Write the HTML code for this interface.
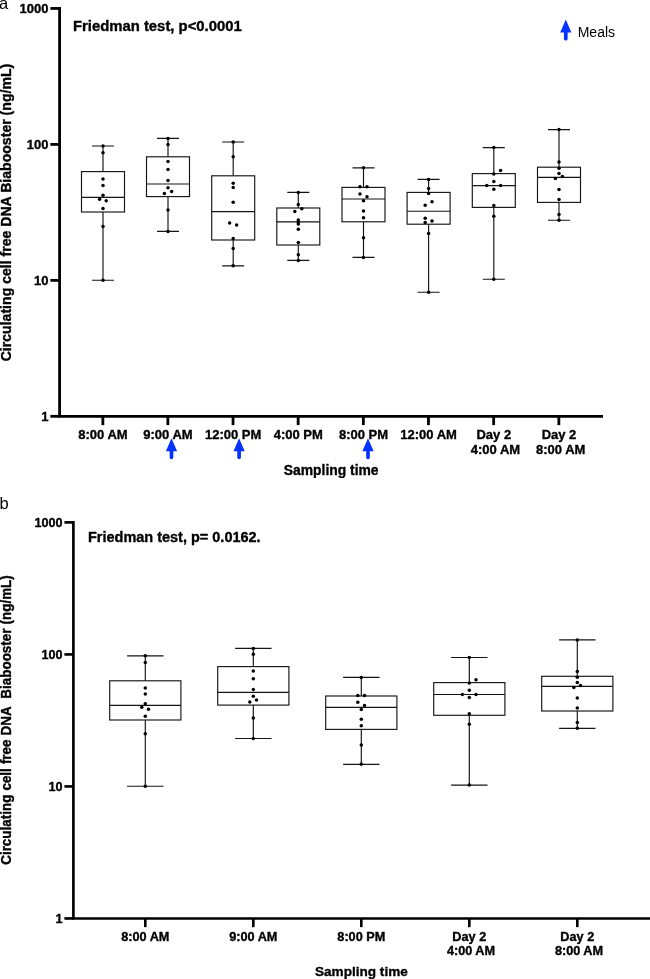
<!DOCTYPE html>
<html lang="en"><head><meta charset="utf-8"><title>Circulating cell free DNA Biabooster</title>
<style>html,body{margin:0;padding:0;background:#fff}svg{display:block}text{filter:grayscale(1)}text{font-family:"Liberation Sans",Arial,Helvetica,sans-serif;fill:#000}.b{font-weight:bold;stroke:#000;stroke-width:.35px;stroke-linejoin:round}</style></head><body>
<svg width="650" height="979" viewBox="0 0 650 979">
<rect width="650" height="979" fill="#fff"/>
<text x="-1.0" y="8.5" font-size="16.5" text-anchor="start">a</text>
<g stroke="#000" stroke-width="2.8" fill="none">
<path d="M59.6 7.049999999999999V417.7M58.2 416.3H603"/>
<path d="M50.400000000000006 416.30H59.6"/>
<path d="M50.400000000000006 280.35H59.6"/>
<path d="M50.400000000000006 144.40H59.6"/>
<path d="M50.400000000000006 8.45H59.6"/>
<path d="M102.85 416.3V425.1"/>
<path d="M167.85 416.3V425.1"/>
<path d="M233.04999999999998 416.3V425.1"/>
<path d="M298.15000000000003 416.3V425.1"/>
<path d="M363.35 416.3V425.1"/>
<path d="M428.45000000000005 416.3V425.1"/>
<path d="M493.65000000000003 416.3V425.1"/>
<path d="M558.85 416.3V425.1"/>
</g>
<text x="48.4" y="420.9" font-size="13" class="b" text-anchor="end">1</text>
<text x="48.4" y="284.95" font-size="13" class="b" text-anchor="end">10</text>
<text x="48.4" y="149.0" font-size="13" class="b" text-anchor="end">100</text>
<text x="48.4" y="13.05" font-size="13" class="b" text-anchor="end">1000</text>
<text x="103" y="439.3" font-size="13" class="b" text-anchor="middle">8:00 AM</text>
<text x="168" y="439.3" font-size="13" class="b" text-anchor="middle">9:00 AM</text>
<text x="233.2" y="439.3" font-size="13" class="b" text-anchor="middle">12:00 PM</text>
<text x="298.3" y="439.3" font-size="13" class="b" text-anchor="middle">4:00 PM</text>
<text x="363.5" y="439.3" font-size="13" class="b" text-anchor="middle">8:00 PM</text>
<text x="428.6" y="439.3" font-size="13" class="b" text-anchor="middle">12:00 AM</text>
<text x="493.8" y="439.3" font-size="13" class="b" text-anchor="middle">Day 2</text>
<text x="495.5" y="454.3" font-size="13" class="b" text-anchor="middle">4:00 AM</text>
<text x="559" y="439.3" font-size="13" class="b" text-anchor="middle">Day 2</text>
<text x="560.7" y="454.3" font-size="13" class="b" text-anchor="middle">8:00 AM</text>
<text x="72.9" y="30.8" font-size="14.86" class="b" text-anchor="start">Friedman test, p&lt;0.0001</text>
<text x="331.2" y="474.6" font-size="13.87" class="b" text-anchor="middle">Sampling time</text>
<text transform="translate(11.1 361.3) rotate(-90)" font-size="14.085" class="b" xml:space="preserve">Circulating cell free DNA Biabooster (ng/mL)</text>
<path d="M565.8 19.5L571.4 32.5L567.65 32.5L567.65 38.65A1.85 1.85 0 0 1 563.9499999999999 38.65L563.9499999999999 32.5L560.1999999999999 32.5Z" fill="#0433ff"/>
<text x="577.7" y="37.4" font-size="14" text-anchor="start">Meals</text>
<path d="M171.5 438.2L177.1 451.2L173.35 451.2L173.35 457.34999999999997A1.85 1.85 0 0 1 169.65 457.34999999999997L169.65 451.2L165.9 451.2Z" fill="#0433ff"/>
<path d="M239.1 438.2L244.7 451.2L240.95 451.2L240.95 457.34999999999997A1.85 1.85 0 0 1 237.25 457.34999999999997L237.25 451.2L233.5 451.2Z" fill="#0433ff"/>
<path d="M368.0 438.2L373.6 451.2L369.85 451.2L369.85 457.34999999999997A1.85 1.85 0 0 1 366.15 457.34999999999997L366.15 451.2L362.4 451.2Z" fill="#0433ff"/>
<g stroke="#151515" stroke-width="1.15" fill="none">
<rect x="81.5" y="171.6" width="43.0" height="40.400000000000006"/>
<path d="M81.5 197.4H124.5M103 146V171.6M103 212V280.2M92 146H114M92 280.2H114"/>
</g>
<g fill="#000">
<circle cx="103.00" cy="146" r="1.75"/>
<circle cx="103.00" cy="152.8" r="1.75"/>
<circle cx="103.00" cy="179" r="1.75"/>
<circle cx="103.00" cy="185.4" r="1.75"/>
<circle cx="103.00" cy="195.2" r="1.75"/>
<circle cx="99.60" cy="199.2" r="1.75"/>
<circle cx="106.20" cy="200.8" r="1.75"/>
<circle cx="103.00" cy="208.6" r="1.75"/>
<circle cx="103.00" cy="226.4" r="1.75"/>
<circle cx="103.00" cy="280.2" r="1.75"/>
</g>
<g stroke="#151515" stroke-width="1.15" fill="none">
<rect x="146.5" y="156.8" width="43.0" height="39.79999999999998"/>
<path d="M146.5 184H189.5M168 138.4V156.8M168 196.6V231.4M157 138.4H179M157 231.4H179"/>
</g>
<g fill="#000">
<circle cx="168.00" cy="138.4" r="1.75"/>
<circle cx="168.00" cy="144.4" r="1.75"/>
<circle cx="168.00" cy="161.6" r="1.75"/>
<circle cx="168.00" cy="169.6" r="1.75"/>
<circle cx="168.00" cy="180.4" r="1.75"/>
<circle cx="168.00" cy="187.8" r="1.75"/>
<circle cx="171.60" cy="191.4" r="1.75"/>
<circle cx="164.40" cy="193.4" r="1.75"/>
<circle cx="168.00" cy="210" r="1.75"/>
<circle cx="168.00" cy="231.4" r="1.75"/>
</g>
<g stroke="#151515" stroke-width="1.15" fill="none">
<rect x="211.7" y="175.8" width="43.0" height="64.19999999999999"/>
<path d="M211.7 211.6H254.7M233.2 142V175.8M233.2 240V265.8M222.2 142H244.2M222.2 265.8H244.2"/>
</g>
<g fill="#000">
<circle cx="233.20" cy="142" r="1.75"/>
<circle cx="233.20" cy="156.8" r="1.75"/>
<circle cx="233.20" cy="183.2" r="1.75"/>
<circle cx="233.20" cy="187.4" r="1.75"/>
<circle cx="233.20" cy="202.2" r="1.75"/>
<circle cx="229.60" cy="223" r="1.75"/>
<circle cx="236.60" cy="225" r="1.75"/>
<circle cx="233.20" cy="238.4" r="1.75"/>
<circle cx="233.20" cy="248.4" r="1.75"/>
<circle cx="233.20" cy="265.8" r="1.75"/>
</g>
<g stroke="#151515" stroke-width="1.15" fill="none">
<rect x="276.8" y="208" width="43.0" height="37"/>
<path d="M276.8 221.8H319.8M298.3 192.4V208M298.3 245V260.4M287.3 192.4H309.3M287.3 260.4H309.3"/>
</g>
<g fill="#000">
<circle cx="298.30" cy="192.4" r="1.75"/>
<circle cx="298.30" cy="204.4" r="1.75"/>
<circle cx="301.80" cy="208.8" r="1.75"/>
<circle cx="294.80" cy="211.4" r="1.75"/>
<circle cx="298.30" cy="220" r="1.75"/>
<circle cx="298.30" cy="222" r="1.75"/>
<circle cx="298.30" cy="224" r="1.75"/>
<circle cx="298.30" cy="229.2" r="1.75"/>
<circle cx="298.30" cy="242.4" r="1.75"/>
<circle cx="298.30" cy="254.8" r="1.75"/>
<circle cx="298.30" cy="260.4" r="1.75"/>
</g>
<g stroke="#151515" stroke-width="1.15" fill="none">
<rect x="342.0" y="187.4" width="43.0" height="34.400000000000006"/>
<path d="M342.0 199H385.0M363.5 167.8V187.4M363.5 221.8V257.4M352.5 167.8H374.5M352.5 257.4H374.5"/>
</g>
<g fill="#000">
<circle cx="363.50" cy="167.8" r="1.75"/>
<circle cx="360.00" cy="186.8" r="1.75"/>
<circle cx="367.00" cy="186.8" r="1.75"/>
<circle cx="360.00" cy="194" r="1.75"/>
<circle cx="367.00" cy="196.8" r="1.75"/>
<circle cx="363.50" cy="200.8" r="1.75"/>
<circle cx="363.50" cy="211" r="1.75"/>
<circle cx="363.50" cy="217.8" r="1.75"/>
<circle cx="363.50" cy="237.8" r="1.75"/>
<circle cx="363.50" cy="257.4" r="1.75"/>
</g>
<g stroke="#151515" stroke-width="1.15" fill="none">
<rect x="407.1" y="192.4" width="43.0" height="31.799999999999983"/>
<path d="M407.1 211.2H450.1M428.6 179.4V192.4M428.6 224.2V292.2M417.6 179.4H439.6M417.6 292.2H439.6"/>
</g>
<g fill="#000">
<circle cx="428.60" cy="179.4" r="1.75"/>
<circle cx="428.60" cy="188.4" r="1.75"/>
<circle cx="428.60" cy="193.4" r="1.75"/>
<circle cx="432.00" cy="201.8" r="1.75"/>
<circle cx="425.20" cy="205.2" r="1.75"/>
<circle cx="425.20" cy="218.2" r="1.75"/>
<circle cx="432.00" cy="221" r="1.75"/>
<circle cx="425.20" cy="222.4" r="1.75"/>
<circle cx="428.60" cy="233.6" r="1.75"/>
<circle cx="428.60" cy="292.2" r="1.75"/>
</g>
<g stroke="#151515" stroke-width="1.15" fill="none">
<rect x="472.3" y="173.6" width="42.99999999999994" height="33.80000000000001"/>
<path d="M472.3 185.6H515.3M493.8 147.6V173.6M493.8 207.4V279.2M482.8 147.6H504.8M482.8 279.2H504.8"/>
</g>
<g fill="#000">
<circle cx="493.80" cy="147.6" r="1.75"/>
<circle cx="500.60" cy="170.6" r="1.75"/>
<circle cx="493.80" cy="174" r="1.75"/>
<circle cx="493.80" cy="181.4" r="1.75"/>
<circle cx="486.80" cy="185.6" r="1.75"/>
<circle cx="500.60" cy="185.6" r="1.75"/>
<circle cx="493.80" cy="189.2" r="1.75"/>
<circle cx="493.80" cy="205.4" r="1.75"/>
<circle cx="493.80" cy="216.2" r="1.75"/>
<circle cx="493.80" cy="279.2" r="1.75"/>
</g>
<g stroke="#151515" stroke-width="1.15" fill="none">
<rect x="537.5" y="167.2" width="43.0" height="35.20000000000002"/>
<path d="M537.5 177.4H580.5M559 129.6V167.2M559 202.4V220.2M548 129.6H570M548 220.2H570"/>
</g>
<g fill="#000">
<circle cx="559.00" cy="129.6" r="1.75"/>
<circle cx="559.00" cy="162" r="1.75"/>
<circle cx="559.00" cy="168.2" r="1.75"/>
<circle cx="559.00" cy="173.4" r="1.75"/>
<circle cx="562.40" cy="176.6" r="1.75"/>
<circle cx="555.40" cy="178.6" r="1.75"/>
<circle cx="559.00" cy="189.6" r="1.75"/>
<circle cx="559.00" cy="199.6" r="1.75"/>
<circle cx="559.00" cy="214.6" r="1.75"/>
<circle cx="559.00" cy="220.2" r="1.75"/>
</g>
<text x="-0.6" y="508.6" font-size="16.5" text-anchor="start">b</text>
<g stroke="#000" stroke-width="2.65" fill="none">
<path d="M73.4 521.0749999999999V919.7750000000001M72.075 918.45H650"/>
<path d="M64.4 918.45H73.4"/>
<path d="M64.4 786.43H73.4"/>
<path d="M64.4 654.42H73.4"/>
<path d="M64.4 522.40H73.4"/>
<path d="M145.3 918.45V927.1500000000001"/>
<path d="M253.3 918.45V927.1500000000001"/>
<path d="M361.3 918.45V927.1500000000001"/>
<path d="M469.3 918.45V927.1500000000001"/>
<path d="M577.3 918.45V927.1500000000001"/>
</g>
<text transform="translate(62.4 922.8) scale(1 0.965)" font-size="12.6" class="b" text-anchor="end">1</text>
<text transform="translate(62.4 790.78) scale(1 0.965)" font-size="12.6" class="b" text-anchor="end">10</text>
<text transform="translate(62.4 658.77) scale(1 0.965)" font-size="12.6" class="b" text-anchor="end">100</text>
<text transform="translate(62.4 526.75) scale(1 0.965)" font-size="12.6" class="b" text-anchor="end">1000</text>
<text transform="translate(145.3 940.6) scale(1 0.965)" font-size="12.7" class="b" text-anchor="middle">8:00 AM</text>
<text transform="translate(253.3 940.6) scale(1 0.965)" font-size="12.7" class="b" text-anchor="middle">9:00 AM</text>
<text transform="translate(361.3 940.6) scale(1 0.965)" font-size="12.7" class="b" text-anchor="middle">8:00 PM</text>
<text transform="translate(469.3 940.6) scale(1 0.965)" font-size="12.7" class="b" text-anchor="middle">Day 2</text>
<text transform="translate(471.0 955.2) scale(1 0.965)" font-size="12.7" class="b" text-anchor="middle">4:00 AM</text>
<text transform="translate(577.3 940.6) scale(1 0.965)" font-size="12.7" class="b" text-anchor="middle">Day 2</text>
<text transform="translate(579.0 955.2) scale(1 0.965)" font-size="12.7" class="b" text-anchor="middle">8:00 AM</text>
<text transform="translate(88 542.1) scale(1 0.955)" font-size="14.5" class="b" text-anchor="start">Friedman test, p= 0.0162.</text>
<text x="361.4" y="975.8" font-size="13.58" class="b" text-anchor="middle">Sampling time</text>
<text transform="translate(10.9 864.8) rotate(-90) scale(1 1.085)" font-size="13.45" class="b" xml:space="preserve" word-spacing="0.33">Circulating cell free DNA  Biabooster (ng/mL)</text>
<g stroke="#151515" stroke-width="1.15" fill="none">
<rect x="109.7" y="680.8" width="71.2" height="39.200000000000045"/>
<path d="M109.7 705.4H180.9M145.3 655.8V680.8M145.3 720V786.2M127.1 655.8H163.5M127.1 786.2H163.5"/>
</g>
<g fill="#000">
<circle cx="145.30" cy="655.8" r="1.75"/>
<circle cx="145.30" cy="662.4" r="1.75"/>
<circle cx="145.30" cy="688" r="1.75"/>
<circle cx="145.30" cy="694.1" r="1.75"/>
<circle cx="145.30" cy="703.7" r="1.75"/>
<circle cx="141.80" cy="707.2" r="1.75"/>
<circle cx="148.50" cy="709.3" r="1.75"/>
<circle cx="145.30" cy="716.3" r="1.75"/>
<circle cx="145.30" cy="733.8" r="1.75"/>
<circle cx="145.30" cy="786.2" r="1.75"/>
</g>
<g stroke="#151515" stroke-width="1.15" fill="none">
<rect x="217.7" y="666.6" width="71.19999999999999" height="38.5"/>
<path d="M217.7 692.4H288.9M253.3 648.4V666.6M253.3 705.1V738.5M235.1 648.4H271.5M235.1 738.5H271.5"/>
</g>
<g fill="#000">
<circle cx="253.30" cy="648.4" r="1.75"/>
<circle cx="253.30" cy="654.3" r="1.75"/>
<circle cx="253.30" cy="671" r="1.75"/>
<circle cx="253.30" cy="678.7" r="1.75"/>
<circle cx="253.30" cy="689.4" r="1.75"/>
<circle cx="253.30" cy="696.3" r="1.75"/>
<circle cx="256.50" cy="699.9" r="1.75"/>
<circle cx="249.80" cy="701.9" r="1.75"/>
<circle cx="253.30" cy="717.9" r="1.75"/>
<circle cx="253.30" cy="738.5" r="1.75"/>
</g>
<g stroke="#151515" stroke-width="1.15" fill="none">
<rect x="325.7" y="696" width="71.19999999999999" height="33.39999999999998"/>
<path d="M325.7 707.3H396.9M361.3 677.4V696M361.3 729.4V764.3M343.1 677.4H379.5M343.1 764.3H379.5"/>
</g>
<g fill="#000">
<circle cx="361.30" cy="677.4" r="1.75"/>
<circle cx="357.80" cy="695.6" r="1.75"/>
<circle cx="364.50" cy="695.6" r="1.75"/>
<circle cx="357.80" cy="702.3" r="1.75"/>
<circle cx="364.50" cy="705.4" r="1.75"/>
<circle cx="361.30" cy="709.6" r="1.75"/>
<circle cx="361.30" cy="719.2" r="1.75"/>
<circle cx="361.30" cy="725.8" r="1.75"/>
<circle cx="361.30" cy="744.9" r="1.75"/>
<circle cx="361.30" cy="764.3" r="1.75"/>
</g>
<g stroke="#151515" stroke-width="1.15" fill="none">
<rect x="433.7" y="682.6" width="71.19999999999999" height="32.69999999999993"/>
<path d="M433.7 694.5H504.9M469.3 657.5V682.6M469.3 715.3V785.1M451.1 657.5H487.5M451.1 785.1H487.5"/>
</g>
<g fill="#000">
<circle cx="469.30" cy="657.5" r="1.75"/>
<circle cx="476.00" cy="679.8" r="1.75"/>
<circle cx="469.30" cy="683.1" r="1.75"/>
<circle cx="469.30" cy="690.3" r="1.75"/>
<circle cx="462.40" cy="694.5" r="1.75"/>
<circle cx="476.00" cy="694.5" r="1.75"/>
<circle cx="469.30" cy="697.6" r="1.75"/>
<circle cx="469.30" cy="713.7" r="1.75"/>
<circle cx="469.30" cy="724.3" r="1.75"/>
<circle cx="469.30" cy="785.1" r="1.75"/>
</g>
<g stroke="#151515" stroke-width="1.15" fill="none">
<rect x="541.7" y="676.3" width="71.19999999999993" height="34.700000000000045"/>
<path d="M541.7 686.3H612.9M577.3 639.9V676.3M577.3 711V728.3M559.1 639.9H595.5M559.1 728.3H595.5"/>
</g>
<g fill="#000">
<circle cx="577.30" cy="639.9" r="1.75"/>
<circle cx="577.30" cy="671.4" r="1.75"/>
<circle cx="577.30" cy="677.3" r="1.75"/>
<circle cx="577.30" cy="682.4" r="1.75"/>
<circle cx="580.50" cy="685.6" r="1.75"/>
<circle cx="573.80" cy="687.4" r="1.75"/>
<circle cx="577.30" cy="698" r="1.75"/>
<circle cx="577.30" cy="708" r="1.75"/>
<circle cx="577.30" cy="722.5" r="1.75"/>
<circle cx="577.30" cy="728.3" r="1.75"/>
</g>
</svg></body></html>
